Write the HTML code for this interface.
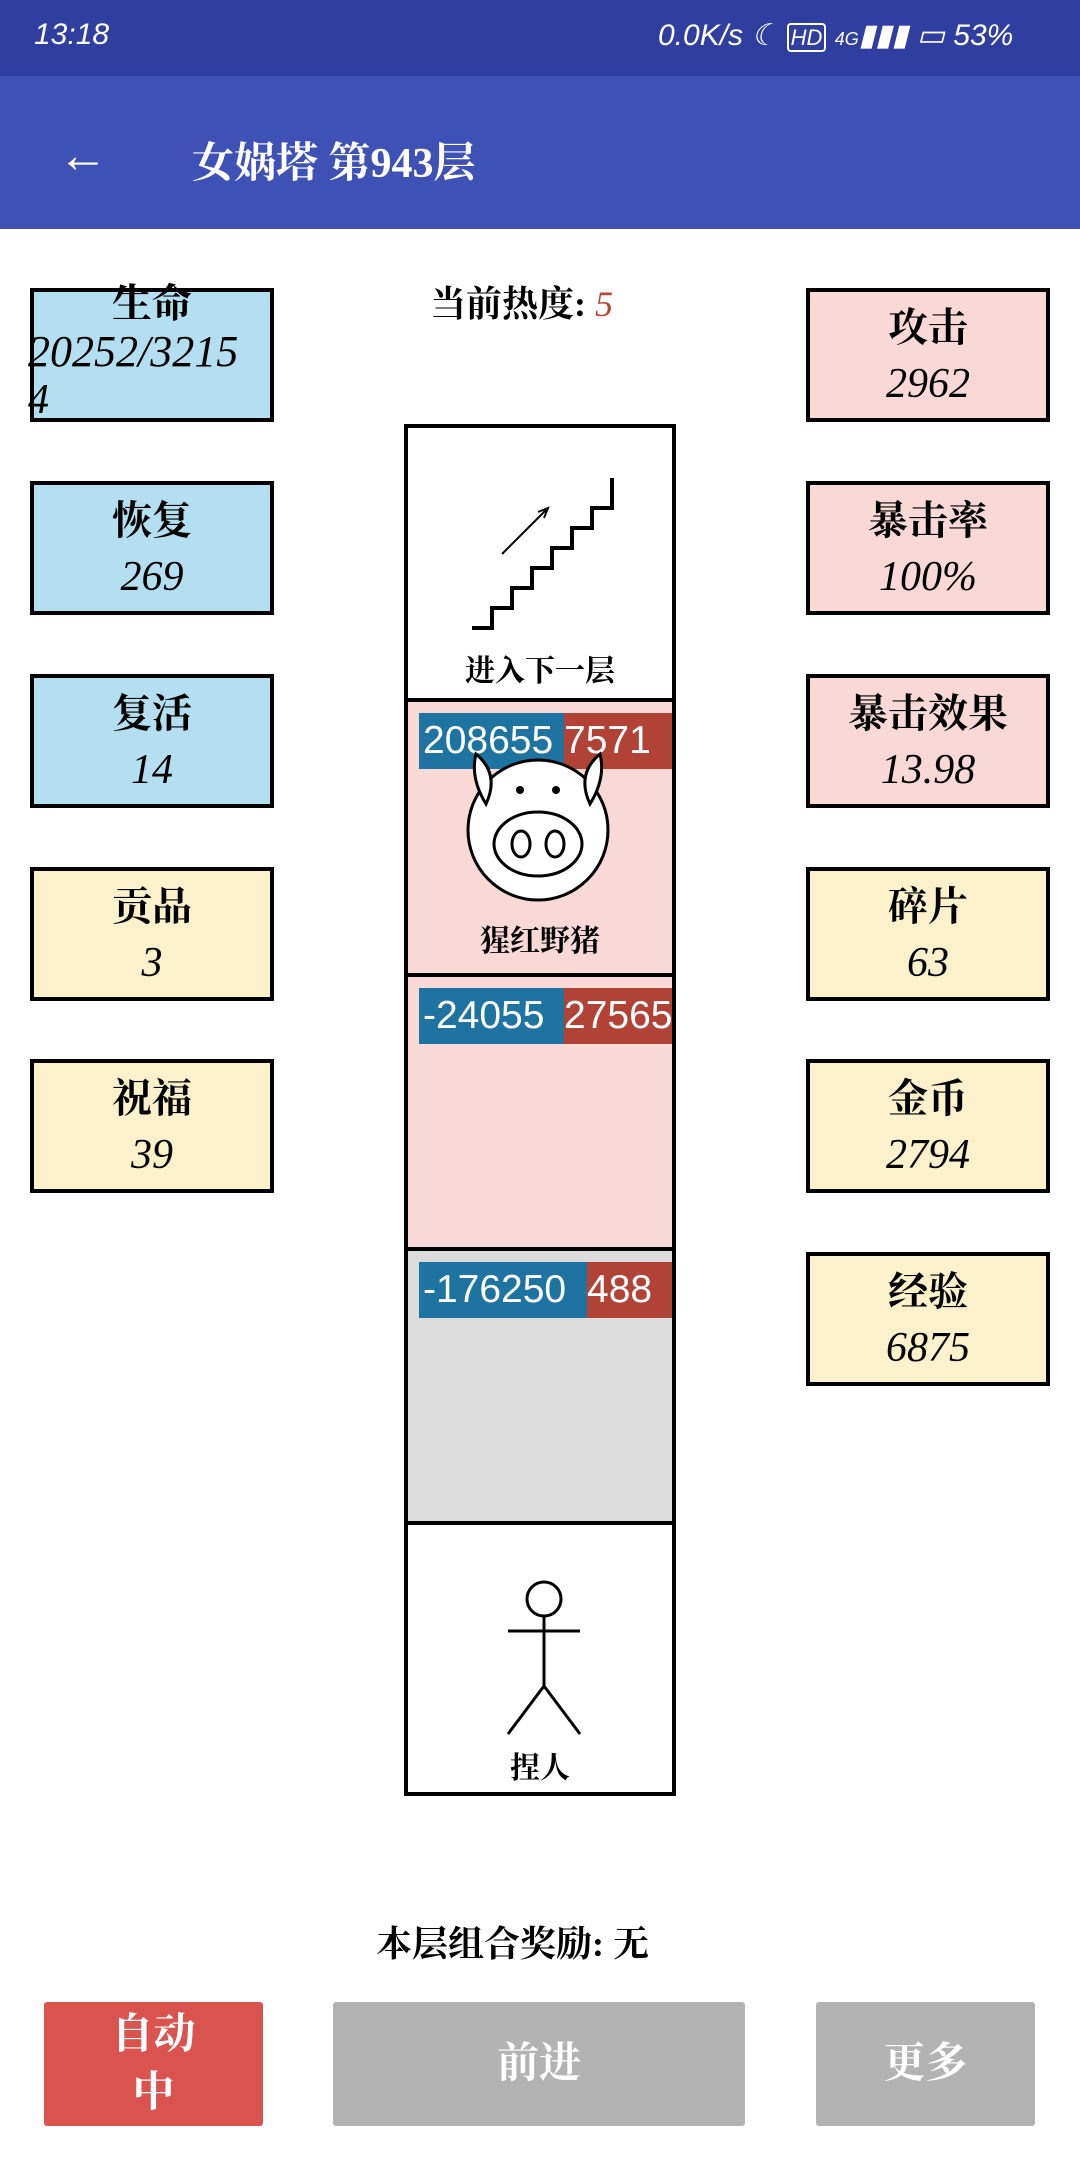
<!DOCTYPE html>
<html><head><meta charset="utf-8"><style>
*{margin:0;padding:0;box-sizing:border-box}
body{width:1080px;height:2160px;background:#fff;position:relative;overflow:hidden;font-family:"Liberation Serif","Noto Serif CJK SC",serif;color:#000}
.a{position:absolute}
.box{position:absolute;width:244px;height:134px;border:4px solid #000;text-align:center;font-size:40px;line-height:56px;padding-top:8px;font-weight:bold}
.box i{font-weight:normal;font-size:42px}
.b{background:#b3dff1}.p{background:#f9d9d6}.y{background:#fdf1cc}
.cell{position:absolute;left:404px;width:272px;border:4px solid #000}
.hp{position:absolute;left:11px;top:11px;height:56px;width:253px;font-family:"Liberation Sans",sans-serif;font-size:39px;color:#fff;line-height:56px;overflow:hidden;white-space:nowrap}
.btn{position:absolute;top:2002px;height:124px;color:#fff;font-size:42px;font-weight:bold;text-align:center;border-radius:3px}
</style></head><body>
<div class="a" style="left:0;top:0;width:1080px;height:76px;background:#303f9f"></div>
<div class="a" style="left:34px;top:18px;color:#fff;font:italic 30px 'Liberation Sans',sans-serif">13:18</div>
<div class="a" style="left:658px;top:18px;color:#fff;font:italic 30px 'Liberation Sans',sans-serif">0.0K/s ☾ <span style="font-size:22px;border:2px solid #fff;border-radius:4px;padding:0 2px">HD</span> <span style="font-size:18px">4G</span>▮▮▮ ▭ 53%</div>
<div class="a" style="left:0;top:76px;width:1080px;height:153px;background:#3f51b5"></div>
<div class="a" style="left:58px;top:126px;color:#fff;font:bold 50px 'Liberation Sans',sans-serif">←</div>
<div class="a" style="left:192px;top:130px;color:#fff;font-size:42px;font-weight:bold">女娲塔 第943层</div>

<div class="box b" style="left:30px;top:288px;line-height:48px;padding-top:0"><div style="margin-top:-12px">生命</div><i style="display:block;text-align:left;margin-left:-6px;white-space:nowrap;font-size:44px">20252/3215</i><i style="display:block;text-align:left;margin-left:-6px">4</i></div>
<div class="box b" style="left:30px;top:481px">恢复<br><i>269</i></div>
<div class="box b" style="left:30px;top:674px">复活<br><i>14</i></div>
<div class="box y" style="left:30px;top:867px">贡品<br><i>3</i></div>
<div class="box y" style="left:30px;top:1059px">祝福<br><i>39</i></div>

<div class="box p" style="left:806px;top:288px">攻击<br><i>2962</i></div>
<div class="box p" style="left:806px;top:481px">暴击率<br><i>100%</i></div>
<div class="box p" style="left:806px;top:674px">暴击效果<br><i>13.98</i></div>
<div class="box y" style="left:806px;top:867px">碎片<br><i>63</i></div>
<div class="box y" style="left:806px;top:1059px">金币<br><i>2794</i></div>
<div class="box y" style="left:806px;top:1252px">经验<br><i>6875</i></div>

<div class="a" style="left:430px;top:276px;font-size:36px;font-weight:bold">当前热度: <span style="color:#b04a3a;font-weight:normal;font-style:italic">5</span></div>

<div class="cell" style="top:424px;height:278px;background:#fff">
<svg class="a" style="left:0;top:0" width="264" height="270"><g stroke="#000" stroke-width="4" fill="none"><path d="M64 200h20v-20h20v-20h20v-20h20v-20h20v-20h20v-20h20v-30"/><path d="M94 126l44-44" stroke-width="2"/><path d="M130 84l10-4-4 10" stroke-width="2"/></g></svg>
<div class="a" style="left:0;width:264px;top:218px;text-align:center;font-size:30px;font-weight:bold">进入下一层</div></div>
<div class="cell" style="top:698px;height:279px;background:#f9d9d6">
<div class="hp" style="background:#b04236"><span style="display:inline-block;background:#1f73a0;width:145px;padding-left:4px">208655</span>7571</div>
<svg class="a" style="left:0;top:0" width="264" height="270"><g stroke="#000" stroke-width="3" fill="#fff"><path d="M72 62q-6 30 14 46M188 62q6 30-14 46"/><circle cx="130" cy="128" r="70"/><path d="M68 52q-6 24 10 50q14-30 -10-50zM192 52q6 24-10 50q-14-30 10-50z"/><ellipse cx="130" cy="142" rx="44" ry="32"/><ellipse cx="113" cy="142" rx="9" ry="13"/><ellipse cx="147" cy="142" rx="9" ry="13"/></g><circle cx="112" cy="88" r="4"/><circle cx="148" cy="88" r="4"/></svg>
<div class="a" style="left:0;width:264px;top:214px;text-align:center;font-size:30px;font-weight:bold">猩红野猪</div></div>
<div class="cell" style="top:973px;height:278px;background:#f9d9d6">
<div class="hp" style="background:#b04236"><span style="display:inline-block;background:#1f73a0;width:145px;padding-left:4px">-24055</span>27565</div></div>
<div class="cell" style="top:1247px;height:278px;background:#dcdcdc">
<div class="hp" style="background:#b04236"><span style="display:inline-block;background:#1f73a0;width:168px;padding-left:4px">-176250</span>488</div></div>
<div class="cell" style="top:1521px;height:275px;background:#fff">
<svg class="a" style="left:0;top:0" width="264" height="270"><g stroke="#000" stroke-width="3" fill="none"><circle cx="136" cy="74" r="17"/><path d="M136 91v70M100 106h72M136 161l-36 48M136 161l36 48"/></g></svg>
<div class="a" style="left:0;width:264px;top:218px;text-align:center;font-size:30px;font-weight:bold">捏人</div></div>

<div class="a" style="left:376px;top:1916px;font-size:36px;font-weight:bold">本层组合奖励: 无</div>
<div class="btn" style="left:44px;width:219px;background:#d9534f;line-height:58px;padding-top:4px">自动<br>中</div>
<div class="btn" style="left:333px;width:412px;background:#b3b3b3;line-height:124px">前进</div>
<div class="btn" style="left:816px;width:219px;background:#b3b3b3;line-height:124px">更多</div>
</body></html>
